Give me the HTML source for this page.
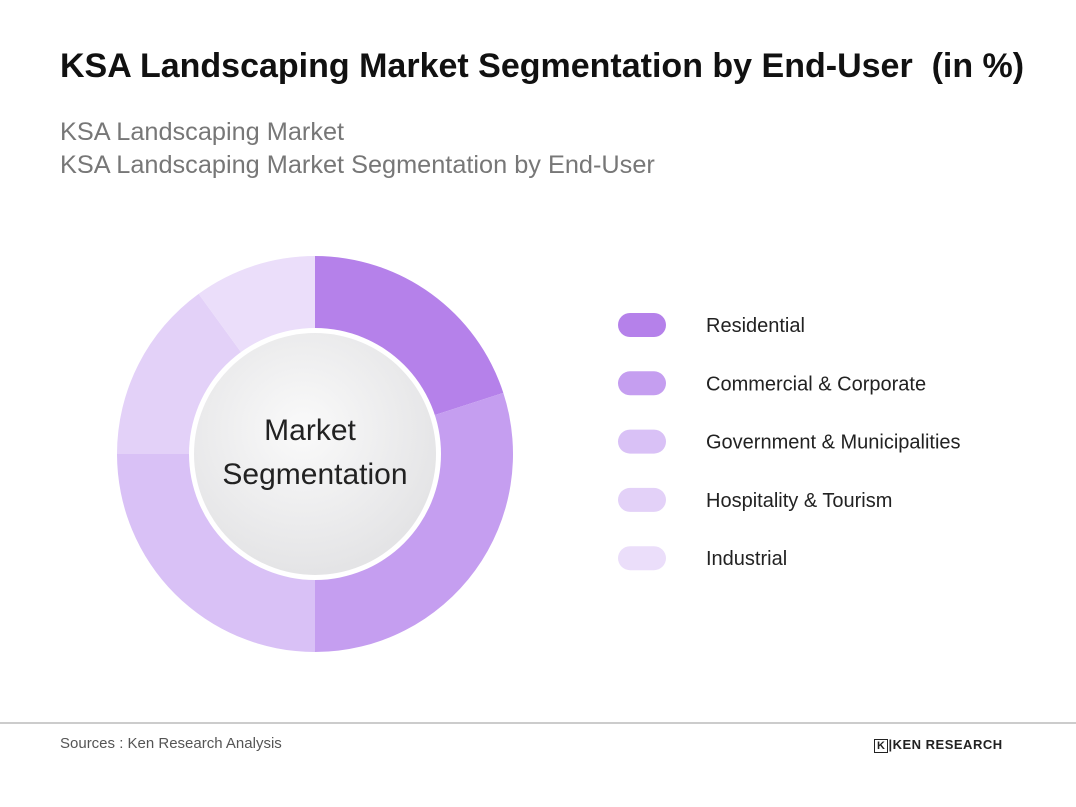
<!DOCTYPE html>
<html><head><meta charset="utf-8">
<style>
body{margin:0;width:1076px;height:807px;background:#fff;font-family:"Liberation Sans",sans-serif;position:relative;overflow:hidden}
.t{position:absolute;white-space:nowrap}
</style></head><body>
<div class="t" style="left:60px;top:47px;font-size:34px;font-weight:bold;color:#111">KSA Landscaping Market Segmentation by End-User&nbsp; (in %)</div>
<div class="t" style="left:60px;top:118px;font-size:25.3px;color:#777">KSA Landscaping Market</div>
<div class="t" style="left:60px;top:151px;font-size:25.3px;color:#777">KSA Landscaping Market Segmentation by End-User</div>
<svg id="chart" width="1076" height="807" style="position:absolute;left:0;top:0">
<defs><radialGradient id="cg" cx="45%" cy="40%" r="65%"><stop offset="0" stop-color="#fafafa"/><stop offset="1" stop-color="#e2e2e4"/></radialGradient></defs>
<g id="slices"></g>
<circle cx="315" cy="454" r="126" fill="#fff"/>
<circle cx="315" cy="454" r="121" fill="url(#cg)"/>
<text x="310" y="440" text-anchor="middle" font-size="30" fill="#222" font-family="Liberation Sans">Market</text>
<text x="315" y="484" text-anchor="middle" font-size="30" fill="#222" font-family="Liberation Sans">Segmentation</text>
<g id="legend"></g>
</svg>
<div style="position:absolute;left:0;top:722px;width:1076px;height:2px;background:#ccc"></div>
<div class="t" style="left:60px;top:735px;font-size:15px;color:#555">Sources : Ken Research Analysis</div>
<div class="t" style="left:874px;top:737px;font-size:13px;font-weight:bold;color:#222;letter-spacing:0.5px"><span style="border:1.5px solid #222;padding:0 2px;font-size:11px">K</span>|KEN RESEARCH</div>
<script>
const categories=["Residential","Commercial & Corporate","Government & Municipalities","Hospitality & Tourism","Industrial"];
const values=[20,30,25,15,10];
const colors=["#b581ea","#c59ef0","#d9c1f6","#e3d1f8","#ebdefa"];
const ns="http://www.w3.org/2000/svg";
const cx=315,cy=454,R=198,r0=120;
const total=values.reduce((a,b)=>a+b,0);
function pt(a,rad){return [cx+rad*Math.sin(a),cy-rad*Math.cos(a)];}
let acc=0;const g=document.getElementById('slices');
values.forEach((v,i)=>{
 const a0=acc/total*2*Math.PI;acc+=v;const a1=acc/total*2*Math.PI;
 const large=(a1-a0)>Math.PI?1:0;
 const [x0,y0]=pt(a0,R),[x1,y1]=pt(a1,R),[x2,y2]=pt(a1,r0),[x3,y3]=pt(a0,r0);
 const p=document.createElementNS(ns,'path');
 p.setAttribute('d',`M${x0},${y0}A${R},${R} 0 ${large} 1 ${x1},${y1}L${x2},${y2}A${r0},${r0} 0 ${large} 0 ${x3},${y3}Z`);
 p.setAttribute('fill',colors[i]);
 
 
 g.appendChild(p);
});
const lg=document.getElementById('legend');
categories.forEach((c,i)=>{
 const y=325+i*58.3;
 const rc=document.createElementNS(ns,'rect');
 rc.setAttribute('x',618);rc.setAttribute('y',y-12);rc.setAttribute('width',48);rc.setAttribute('height',24);rc.setAttribute('rx',12);rc.setAttribute('fill',colors[i]);
 
 
 lg.appendChild(rc);
 const t=document.createElementNS(ns,'text');
 t.setAttribute('x',706);t.setAttribute('y',y+7);t.setAttribute('font-size',20);t.setAttribute('fill','#222');t.setAttribute('font-family','Liberation Sans');
 t.textContent=c;
 
 
 lg.appendChild(t);
});
</script>
</body></html>
